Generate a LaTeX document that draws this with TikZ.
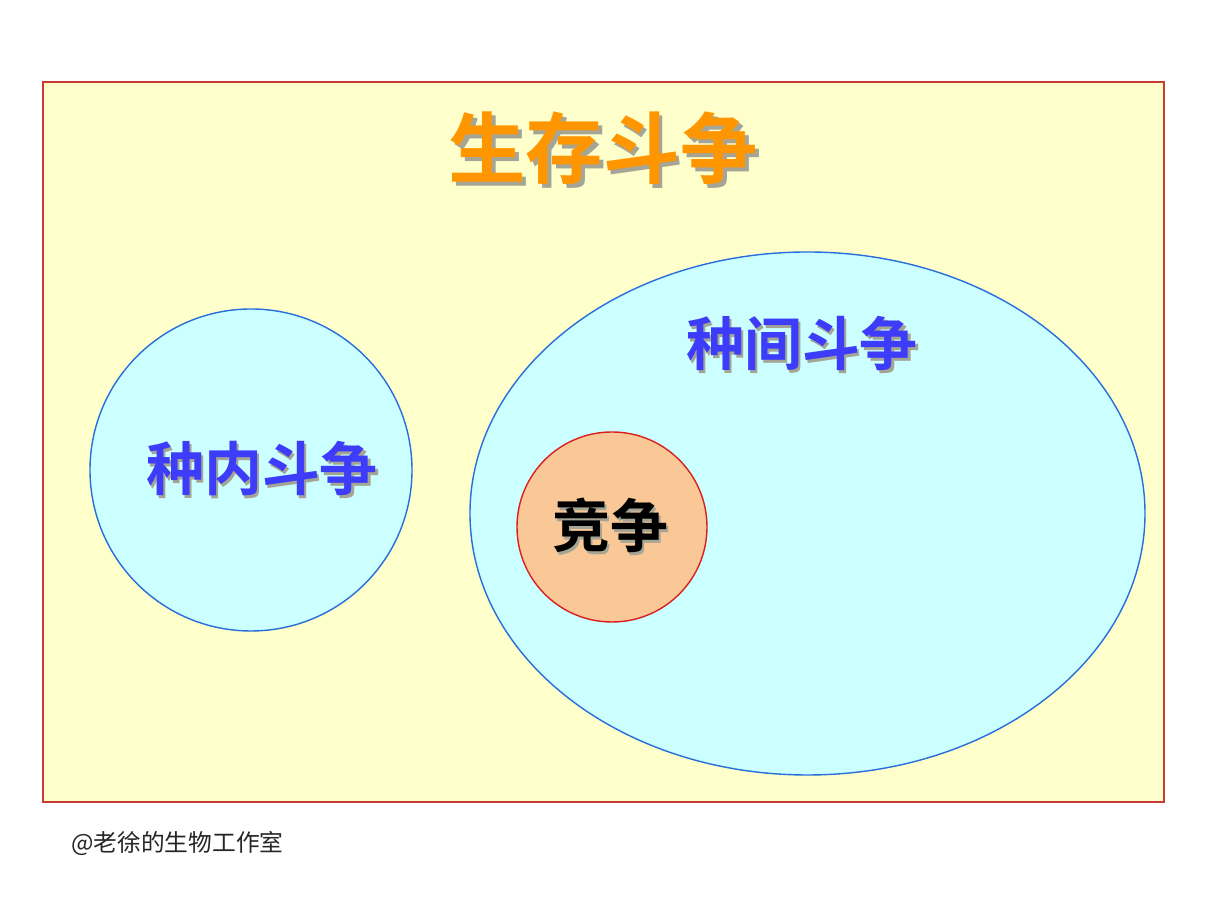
\documentclass[tikz,border=0pt]{standalone}
\usepackage{fontspec}
\usepackage{xcolor}
\usepackage{tikz}
\usetikzlibrary{positioning,calc,shapes.geometric}
\newfontfamily\cjk{Noto Sans CJK SC}[BoldFont={Noto Sans CJK SC Bold}]
\definecolor{bgyellow}{RGB}{255,255,204}
\definecolor{frmred}{RGB}{200,60,50}
\definecolor{cyanfill}{RGB}{204,255,255}
\definecolor{ringblue}{RGB}{40,110,220}
\definecolor{peach}{RGB}{250,200,150}
\definecolor{ringred}{RGB}{220,30,30}
\definecolor{ttlorange}{RGB}{255,150,0}
\definecolor{txtblue}{RGB}{60,60,250}
\definecolor{shgray}{RGB}{165,165,150}
% text with a soft drop shadow
\newcommand{\shadowed}[2]{\makebox[0pt][l]{\hspace{0.05em}\raisebox{-0.05em}{\color{shgray}#2}}{\color{#1}#2}}

\begin{document}
\begin{tikzpicture}[
  every node/.style={align=center},
  frame/.style   = {draw=frmred, fill=bgyellow, line width=0.8pt},
  ring/.style    = {draw=ringblue, fill=cyanfill, line width=0.8pt},
  inring/.style  = {circle, draw=ringred, fill=peach, line width=0.8pt, minimum size=3.8cm, inner sep=0pt},
  ttl/.style     = {font=\cjk\bfseries\fontsize{44}{48}\selectfont, inner sep=0pt},
  lbl/.style     = {font=\cjk\bfseries\fontsize{33}{36}\selectfont, inner sep=0pt},
  note/.style    = {font=\cjk\fontsize{13.5}{15}\selectfont, inner sep=0pt, anchor=west, text=black!85}
]
\useasboundingbox (0,0) rectangle (24.12,18.08);

%% ===== outer frame =====
\draw[frame] (0.86,2.04) rectangle (23.28,16.44);
\node[ttl] (title) at (12.06,15.08) {\shadowed{ttlorange}{生存斗争}};

%% ===== intraspecific =====
\node[ring, circle, minimum size=6.44cm, inner sep=0pt] (intra) at (5.02,8.68) {};
\node[lbl] (intratxt) at (5.24,8.68) {\shadowed{txtblue}{种内斗争}};

%% ===== interspecific =====
\node[ring, ellipse, minimum width=13.5cm, minimum height=10.46cm, inner sep=0pt] (inter) at (16.15,7.81) {};
\node[lbl] (intertxt) at (16.04,11.18) {\shadowed{txtblue}{种间斗争}};
\node[inring] (comp) at (12.24,7.54) {};
\node[lbl] (comptxt) at (12.2,7.54) {\shadowed{black}{竞争}};

\node[note] (credit) at (1.42,1.22) {@老徐的生物工作室};

\end{tikzpicture}
\end{document}
